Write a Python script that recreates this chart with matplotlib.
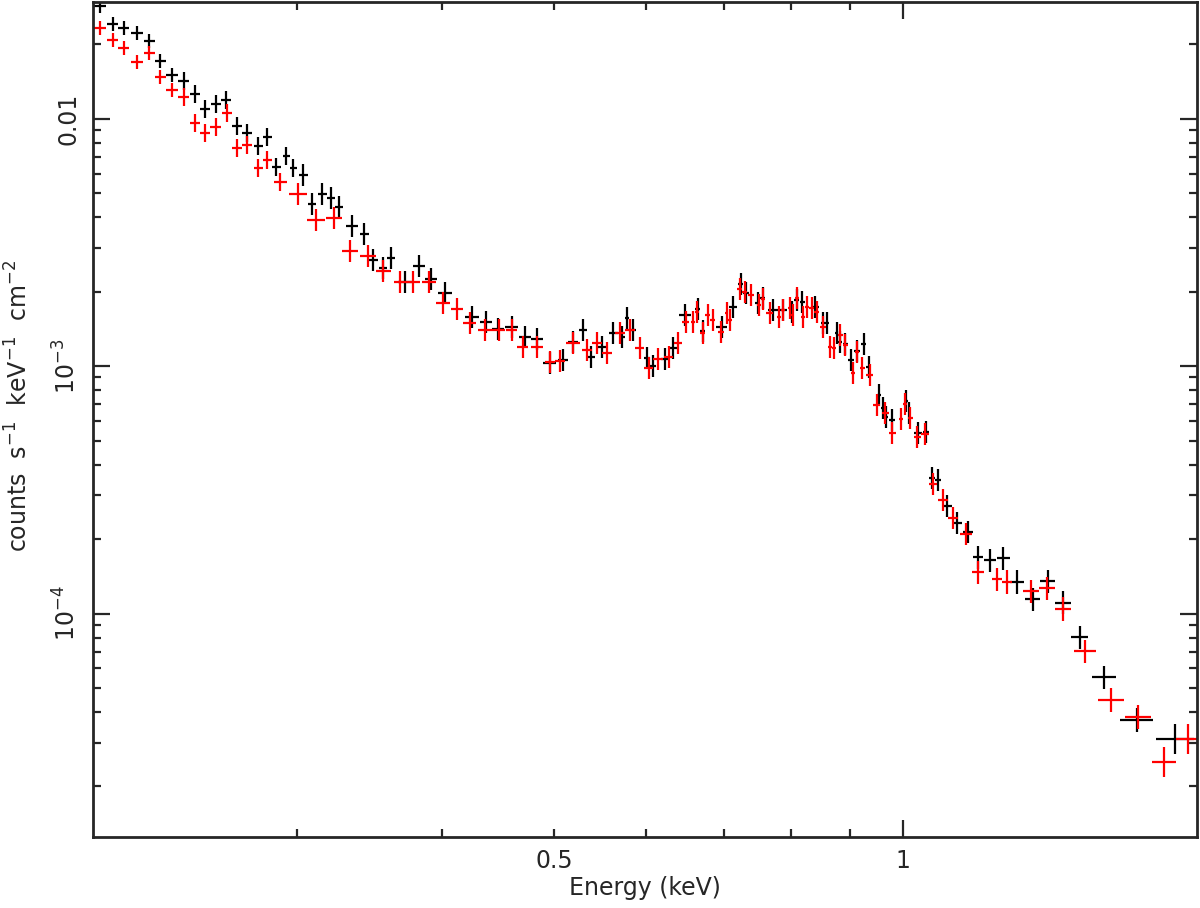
import numpy as np
import matplotlib
matplotlib.use("Agg")
import matplotlib.pyplot as plt
from matplotlib import font_manager
from matplotlib.ticker import FixedLocator, FuncFormatter, LogLocator, NullFormatter

# spectrum 1 (black) and spectrum 2 (red), energy in keV
black_energy = [
    0.2028, 0.2081, 0.2127, 0.2183, 0.2236, 0.2285, 0.2340, 0.2396, 0.2449, 0.2499,
    0.2553, 0.2605, 0.2662, 0.2716, 0.2776, 0.2826, 0.2877, 0.2935, 0.2976, 0.3036,
    0.3090, 0.3153, 0.3209, 0.3260, 0.3346, 0.3427, 0.3489, 0.3559, 0.3616, 0.3718,
    0.3822, 0.3915, 0.4025, 0.4246, 0.4366, 0.4471, 0.4597, 0.4718, 0.4832, 0.4958,
    0.5087, 0.5191, 0.5295, 0.5380, 0.5499, 0.5620, 0.5721, 0.5778, 0.5848, 0.6012,
    0.6084, 0.6231, 0.6331, 0.6483, 0.6653, 0.6719, 0.6978, 0.7132, 0.7246, 0.7319,
    0.7495, 0.7570, 0.7722, 0.7877, 0.8019, 0.8099, 0.8181, 0.8394, 0.8529, 0.8597,
    0.8769, 0.8822, 0.8910, 0.9017, 0.9125, 0.9252, 0.9344, 0.9532, 0.9608, 0.9666,
    0.9782, 1.0058, 1.0118, 1.0302, 1.0467, 1.0592, 1.0719, 1.0913, 1.1132, 1.1377,
    1.1605, 1.1885, 1.2196, 1.2539, 1.2944, 1.3335, 1.3739, 1.4210, 1.4904, 1.5912,
    1.7161,
]
black_counts = [
    2.849e-2, 2.409e-2, 2.321e-2, 2.215e-2, 2.056e-2, 1.707e-2, 1.499e-2, 1.417e-2, 1.256e-2, 1.092e-2,
    1.144e-2, 1.188e-2, 9.327e-3, 8.737e-3, 7.743e-3, 8.418e-3, 6.370e-3, 7.055e-3, 6.310e-3, 5.911e-3,
    4.514e-3, 4.955e-3, 4.773e-3, 4.389e-3, 3.679e-3, 3.414e-3, 2.681e-3, 2.489e-3, 2.732e-3, 2.185e-3,
    2.536e-3, 2.246e-3, 1.972e-3, 1.578e-3, 1.506e-3, 1.411e-3, 1.438e-3, 1.310e-3, 1.286e-3, 1.028e-3,
    1.058e-3, 1.250e-3, 1.398e-3, 1.087e-3, 1.193e-3, 1.359e-3, 1.310e-3, 1.563e-3, 1.398e-3, 1.077e-3,
    1.000e-3, 1.067e-3, 1.182e-3, 1.608e-3, 1.700e-3, 1.385e-3, 1.438e-3, 1.732e-3, 2.144e-3, 1.972e-3,
    1.797e-3, 1.883e-3, 1.684e-3, 1.684e-3, 1.653e-3, 1.848e-3, 1.814e-3, 1.732e-3, 1.492e-3, 1.492e-3,
    1.359e-3, 1.250e-3, 1.227e-3, 1.058e-3, 1.150e-3, 1.227e-3, 9.908e-4, 7.636e-4, 6.766e-4, 6.223e-4,
    6.050e-4, 7.221e-4, 6.459e-4, 5.362e-4, 5.412e-4, 3.528e-4, 3.462e-4, 2.719e-4, 2.321e-4, 2.134e-4,
    1.692e-4, 1.645e-4, 1.676e-4, 1.341e-4, 1.144e-4, 1.353e-4, 1.103e-4, 8.036e-5, 5.537e-5, 3.713e-5,
    3.110e-5,
]

red_energy = [
    0.2028, 0.2081, 0.2127, 0.2183, 0.2236, 0.2285, 0.2340, 0.2396, 0.2449, 0.2499,
    0.2553, 0.2610, 0.2662, 0.2716, 0.2776, 0.2826, 0.2900, 0.3005, 0.3115, 0.3229,
    0.3333, 0.3454, 0.3559, 0.3681, 0.3778, 0.3899, 0.4009, 0.4122, 0.4229, 0.4357,
    0.4480, 0.4597, 0.4698, 0.4832, 0.4958, 0.5057, 0.5191, 0.5337, 0.5444, 0.5552,
    0.5698, 0.5813, 0.5929, 0.6036, 0.6145, 0.6280, 0.6394, 0.6496, 0.6587, 0.6640,
    0.6719, 0.6786, 0.6854, 0.6964, 0.7047, 0.7090, 0.7232, 0.7304, 0.7392, 0.7510,
    0.7570, 0.7676, 0.7814, 0.7877, 0.7987, 0.8035, 0.8099, 0.8197, 0.8262, 0.8344,
    0.8427, 0.8529, 0.8648, 0.8717, 0.8822, 0.8910, 0.9053, 0.9125, 0.9216, 0.9363,
    0.9494, 0.9647, 0.9782, 0.9958, 1.0038, 1.0140, 1.0282, 1.0446, 1.0613, 1.0827,
    1.1044, 1.1332, 1.1605, 1.2051, 1.2292, 1.2893, 1.3309, 1.3739, 1.4352, 1.5113,
    1.5944, 1.6790, 1.7608,
]
red_counts = [
    2.321e-2, 2.076e-2, 1.927e-2, 1.692e-2, 1.840e-2, 1.471e-2, 1.304e-2, 1.222e-2, 9.590e-3, 8.737e-3,
    9.241e-3, 1.052e-2, 7.600e-3, 7.814e-3, 6.310e-3, 6.797e-3, 5.537e-3, 4.955e-3, 3.890e-3, 3.963e-3,
    2.915e-3, 2.782e-3, 2.420e-3, 2.185e-3, 2.185e-3, 2.185e-3, 1.797e-3, 1.700e-3, 1.492e-3, 1.398e-3,
    1.398e-3, 1.398e-3, 1.193e-3, 1.193e-3, 1.038e-3, 1.047e-3, 1.239e-3, 1.161e-3, 1.239e-3, 1.128e-3,
    1.359e-3, 1.398e-3, 1.182e-3, 9.815e-4, 1.067e-3, 1.087e-3, 1.239e-3, 1.506e-3, 1.506e-3, 1.653e-3,
    1.359e-3, 1.608e-3, 1.534e-3, 1.372e-3, 1.637e-3, 1.534e-3, 2.047e-3, 1.991e-3, 1.936e-3, 1.764e-3,
    1.865e-3, 1.637e-3, 1.578e-3, 1.684e-3, 1.715e-3, 1.608e-3, 1.883e-3, 1.578e-3, 1.732e-3, 1.715e-3,
    1.653e-3, 1.438e-3, 1.193e-3, 1.182e-3, 1.335e-3, 1.216e-3, 9.370e-4, 1.139e-3, 9.815e-4, 9.196e-4,
    6.956e-4, 6.459e-4, 5.362e-4, 6.107e-4, 7.023e-4, 6.164e-4, 5.166e-4, 5.313e-4, 3.336e-4, 2.874e-4,
    2.431e-4, 2.095e-4, 1.471e-4, 1.378e-4, 1.341e-4, 1.233e-4, 1.268e-4, 1.043e-4, 7.055e-5, 4.472e-5,
    3.818e-5, 2.512e-5, 3.110e-5,
]

# error bar size (multiplicative) per energy band
err_band_edges = [0.235, 0.30, 0.70, 1.15, 1.50, 1.65, 2.0]
err_band_factor = [1.067, 1.085, 1.105, 1.108, 1.113, 1.123, 1.15]

x_ticks_major = [1.0]
x_ticks_minor = [0.3, 0.4, 0.5, 0.6, 0.7, 0.8, 0.9]
y_ticks = [1e-2, 1e-3, 1e-4]
y_tick_labels = ["0.01", "$10^{-3}$", "$10^{-4}$"]

# pick a narrow font if there is one, PGPLOT letters are tall and thin
names = {f.name for f in font_manager.fontManager.ttflist}
if "Liberation Sans Narrow" in names:
    fam, fs = "Liberation Sans Narrow", 21
else:
    fam, fs = "DejaVu Sans", 17
plt.rcParams["font.family"] = [fam, "DejaVu Sans"]
plt.rcParams["mathtext.fontset"] = "custom"
plt.rcParams["mathtext.rm"] = fam
plt.rcParams["mathtext.default"] = "regular"

txt = "#262626"


def bin_halfwidths(e):
    e = np.asarray(e)
    le = np.log10(e)
    d = np.diff(le)
    half = np.minimum(np.r_[d[0], d], np.r_[d, d[-1]]) / 2
    return e - 10 ** (le - half), 10 ** (le + half) - e


def y_errors(e, c):
    e = np.asarray(e)
    c = np.asarray(c)
    f = np.asarray(err_band_factor)[np.searchsorted(err_band_edges, e)]
    return c - c / f, c * f - c


fig = plt.figure(figsize=(12, 9.08), dpi=100)
ax = fig.add_axes([93 / 1200, 1 - 837 / 908, 1104 / 1200, 835 / 908])

for en, ct, col in [(black_energy, black_counts, "black"), (red_energy, red_counts, "#ff0000")]:
    xl, xh = bin_halfwidths(en)
    yl, yh = y_errors(en, ct)
    ax.errorbar(en, ct, xerr=[xl, xh], yerr=[yl, yh], fmt="none",
                ecolor=col, elinewidth=1.6, capsize=0)

ax.set_xscale("log")
ax.set_yscale("log")
ax.set_xlim(0.2, 1.793)
ax.set_ylim(1.25e-5, 0.0296)

ax.xaxis.set_major_locator(FixedLocator(x_ticks_major))
ax.xaxis.set_minor_locator(FixedLocator(x_ticks_minor))
ax.xaxis.set_major_formatter(FuncFormatter(lambda v, p: "1"))
ax.xaxis.set_minor_formatter(FuncFormatter(lambda v, p: "0.5" if abs(v - 0.5) < 1e-6 else ""))

ax.yaxis.set_major_locator(FixedLocator(y_ticks))
ax.yaxis.set_major_formatter(FuncFormatter(lambda v, p: y_tick_labels[y_ticks.index(v)] if v in y_ticks else ""))
ax.yaxis.set_minor_locator(LogLocator(base=10, subs=np.arange(2, 10)))
ax.yaxis.set_minor_formatter(NullFormatter())

ax.tick_params(which="both", direction="in", top=True, right=True,
               width=1.6, color=txt, labelcolor=txt, labelsize=fs, pad=9)
ax.tick_params(which="major", length=12)
ax.tick_params(which="minor", length=6)
ax.tick_params(axis="y", which="both", labelrotation=90)
for t in ax.get_yticklabels():
    t.set_va("center")
for s in ax.spines.values():
    s.set_linewidth(2)
    s.set_color(txt)

ax.set_xlabel("Energy (keV)", fontsize=fs, color=txt, labelpad=2)
ax.set_ylabel("counts  s$^{-1}$  keV$^{-1}$  cm$^{-2}$", fontsize=fs, color=txt)
ax.yaxis.set_label_coords(-0.055, 0.516)

fig.savefig("out.png", dpi=100)
